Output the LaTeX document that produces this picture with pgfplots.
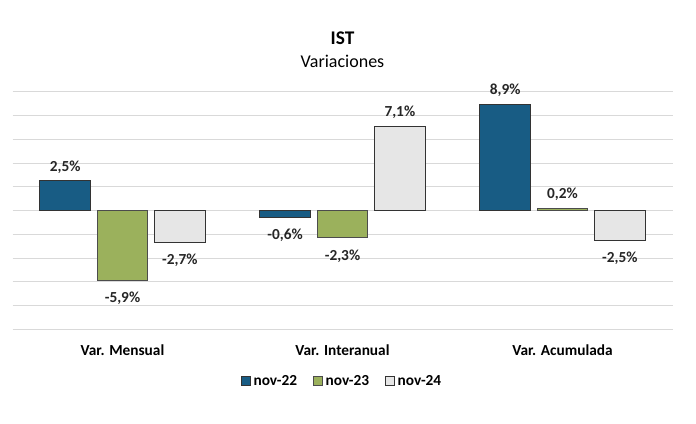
\documentclass[border=0pt]{standalone}
\usepackage{pgfplots}
\pgfplotsset{compat=1.18}
\usepackage{fontspec}
\setmainfont{Carlito}
\definecolor{c22}{HTML}{185C84}
\definecolor{c23}{HTML}{9BB15C}
\definecolor{c24}{HTML}{E6E6E6}
\definecolor{gridc}{HTML}{D9D9D9}
\begin{document}
\begin{tikzpicture}
\path[use as bounding box] (0,0) rectangle (522pt,318pt);
\begin{axis}[
  at={(9.375pt,71pt)}, anchor=south west,
  scale only axis,
  width=495pt, height=178.2pt,
  ybar=5pt, bar width=38pt,
  xmin=-0.5, xmax=2.5,
  ymin=-10, ymax=10,
  xtick={0,1,2},
  xticklabels={Var. Mensual, Var. Interanual, Var. Acumulada},
  xticklabel style={font=\fontsize{11.5}{13}\selectfont\bfseries, yshift=-3.5pt},
  ytick={-10,-8,...,10},
  yticklabels={},
  ymajorgrids,
  grid style={gridc, line width=0.6pt},
  axis line style={draw=none},
  tick style={draw=none},
  /pgf/number format/assume math mode=true,
  visualization depends on={y \as \rawy},
  nodes near coords={\pgfmathprintnumber[fixed, fixed zerofill, precision=1, use comma]{\pgfplotspointmeta}\%},
  nodes near coords style={font=\fontsize{11.5}{13}\selectfont\bfseries, text=black!85, inner sep=5.5pt,
    yshift={(\rawy<0)*(-3pt)}},
  every axis plot/.append style={draw=black!75, line width=0.6pt},
  legend style={at={(0.5,-0.218)}, anchor=center, draw=none, legend columns=3,
    font=\fontsize{11.5}{13}\selectfont\bfseries,
    /tikz/every even column/.append style={column sep=10pt}},
  legend image code/.code={\draw[#1, line width=0.5pt] (0cm,-0.12cm) rectangle (0.24cm,0.12cm);},
  clip=false,
]
\addplot[fill=c22, draw=black!80] coordinates {(0,2.5) (1,-0.6) (2,8.9)};
\addplot[fill=c23, draw=black!70] coordinates {(0,-5.9) (1,-2.3) (2,0.2)};
\addplot[fill=c24, draw=black!80] coordinates {(0,-2.7) (1,7.1) (2,-2.5)};
\legend{nov-22, nov-23, nov-24}
\node[anchor=base, font=\fontsize{14.5}{16}\selectfont\bfseries] at (axis description cs:0.5,1.2) {IST};
\node[anchor=base, font=\fontsize{13.5}{15}\selectfont] at (axis description cs:0.5,1.101) {Variaciones};
\end{axis}
\end{tikzpicture}
\end{document}
